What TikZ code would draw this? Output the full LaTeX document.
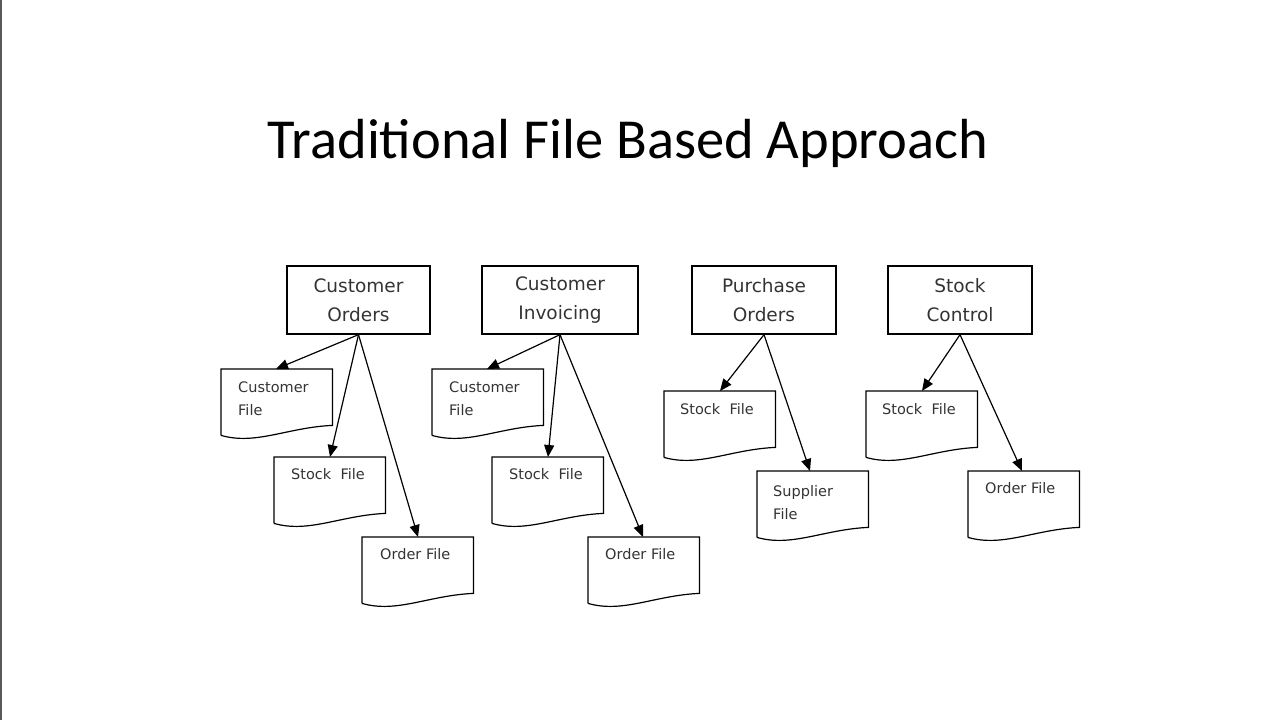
\documentclass[tikz,border=0pt]{standalone}
\usepackage{fontspec}
\setmainfont{Carlito}
\newfontfamily\lab{DejaVu Sans}
\usetikzlibrary{arrows.meta}
\begin{document}
\begin{tikzpicture}[x=1pt,y=-1pt,
  box/.style={draw,line width=1.3pt,minimum width=#1,minimum height=68pt,inner sep=0pt,align=center,font=\lab\fontsize{18.5}{29}\selectfont,text=black!80},
  doc/.style={draw=none,minimum width=111pt,minimum height=56pt,inner sep=0pt},
  dtxt/.style={font=\lab\fontsize{14.5}{23}\selectfont,align=left,anchor=north west,inner sep=0pt,text=black!80},
  arr/.style={line width=1.2pt,-{Triangle[length=12pt,width=10pt]}},
  line/.style={line width=1.2pt}]
\useasboundingbox (0,0) rectangle (1280,720);
\draw[gray!70!black,line width=1.5pt] (0.75,0) -- (0.75,720);
\node[font=\fontsize{56.5}{60}\selectfont,anchor=base] (title) at (628,158) {Traditional File Based Approach};
\newcommand{\docpath}[1]{\draw[line] (#1.south west) ++(0,10) -- (#1.north west) -- (#1.north east) -- (#1.south east)
  .. controls +(-45,2) and +(35,10) .. ([yshift=-10pt]#1.south west);}
% boxes
\node[box=143pt] (co) at (358.5,300) {Customer\\Orders};
\node[box=156pt] (ci) at (560,300) {Customer\\Invoicing};
\node[box=144pt] (po) at (764,300) {Purchase\\Orders};
\node[box=144pt] (sc) at (960,300) {Stock\\Control};
% documents (top-left anchored)
\node[doc,anchor=north west] (cf1) at (221,369) {};
\node[doc,anchor=north west] (sf1) at (274,457) {};
\node[doc,anchor=north west] (of1) at (362,537) {};
\node[doc,anchor=north west] (cf2) at (432,369) {};
\node[doc,anchor=north west] (sf2) at (492,457) {};
\node[doc,anchor=north west] (of2) at (588,537) {};
\node[doc,anchor=north west] (sf3) at (664,391) {};
\node[doc,anchor=north west] (sp3) at (757,471) {};
\node[doc,anchor=north west] (sf4) at (866,391) {};
\node[doc,anchor=north west] (of4) at (968,471) {};
\foreach \d in {cf1,sf1,of1,cf2,sf2,of2,sf3,sp3,sf4,of4}{\docpath{\d}}
% texts
\node[dtxt] (t1) at ([xshift=17pt,yshift=-13pt]cf1.north west) {Customer\\File};
\node[dtxt] (t2) at ([xshift=17pt,yshift=-13pt]cf2.north west) {Customer\\File};
\node[dtxt] (t3) at ([xshift=16pt,yshift=-14pt]sp3.north west) {Supplier\\File};
\node[dtxt] (t4) at ([xshift=17pt,yshift=-11pt]sf1.north west) {Stock\ \ File};
\node[dtxt] (t5) at ([xshift=17pt,yshift=-11pt]sf2.north west) {Stock\ \ File};
\node[dtxt] (t6) at ([xshift=16pt,yshift=-12pt]sf3.north west) {Stock\ \ File};
\node[dtxt] (t7) at ([xshift=16pt,yshift=-12pt]sf4.north west) {Stock\ \ File};
\node[dtxt] (t8) at ([xshift=18pt,yshift=-11pt]of1.north west) {Order File};
\node[dtxt] (t9) at ([xshift=17pt,yshift=-11pt]of2.north west) {Order File};
\node[dtxt] (t10) at ([xshift=17pt,yshift=-11pt]of4.north west) {Order File};
% arrows
\draw[arr] (co.south) -- ([xshift=55pt]cf1.north west);
\draw[arr] (co.south) -- ([xshift=56pt]sf1.north west);
\draw[arr] (co.south) -- ([xshift=56pt]of1.north west);
\draw[arr] (ci.south) -- ([xshift=55pt]cf2.north west);
\draw[arr] (ci.south) -- ([xshift=56pt]sf2.north west);
\draw[arr] (ci.south) -- ([xshift=55pt]of2.north west);
\draw[arr] (po.south) -- ([xshift=56pt]sf3.north west);
\draw[arr] (po.south) -- ([xshift=53pt]sp3.north west);
\draw[arr] (sc.south) -- ([xshift=56pt]sf4.north west);
\draw[arr] (sc.south) -- ([xshift=54pt]of4.north west);
\end{tikzpicture}
\end{document}
